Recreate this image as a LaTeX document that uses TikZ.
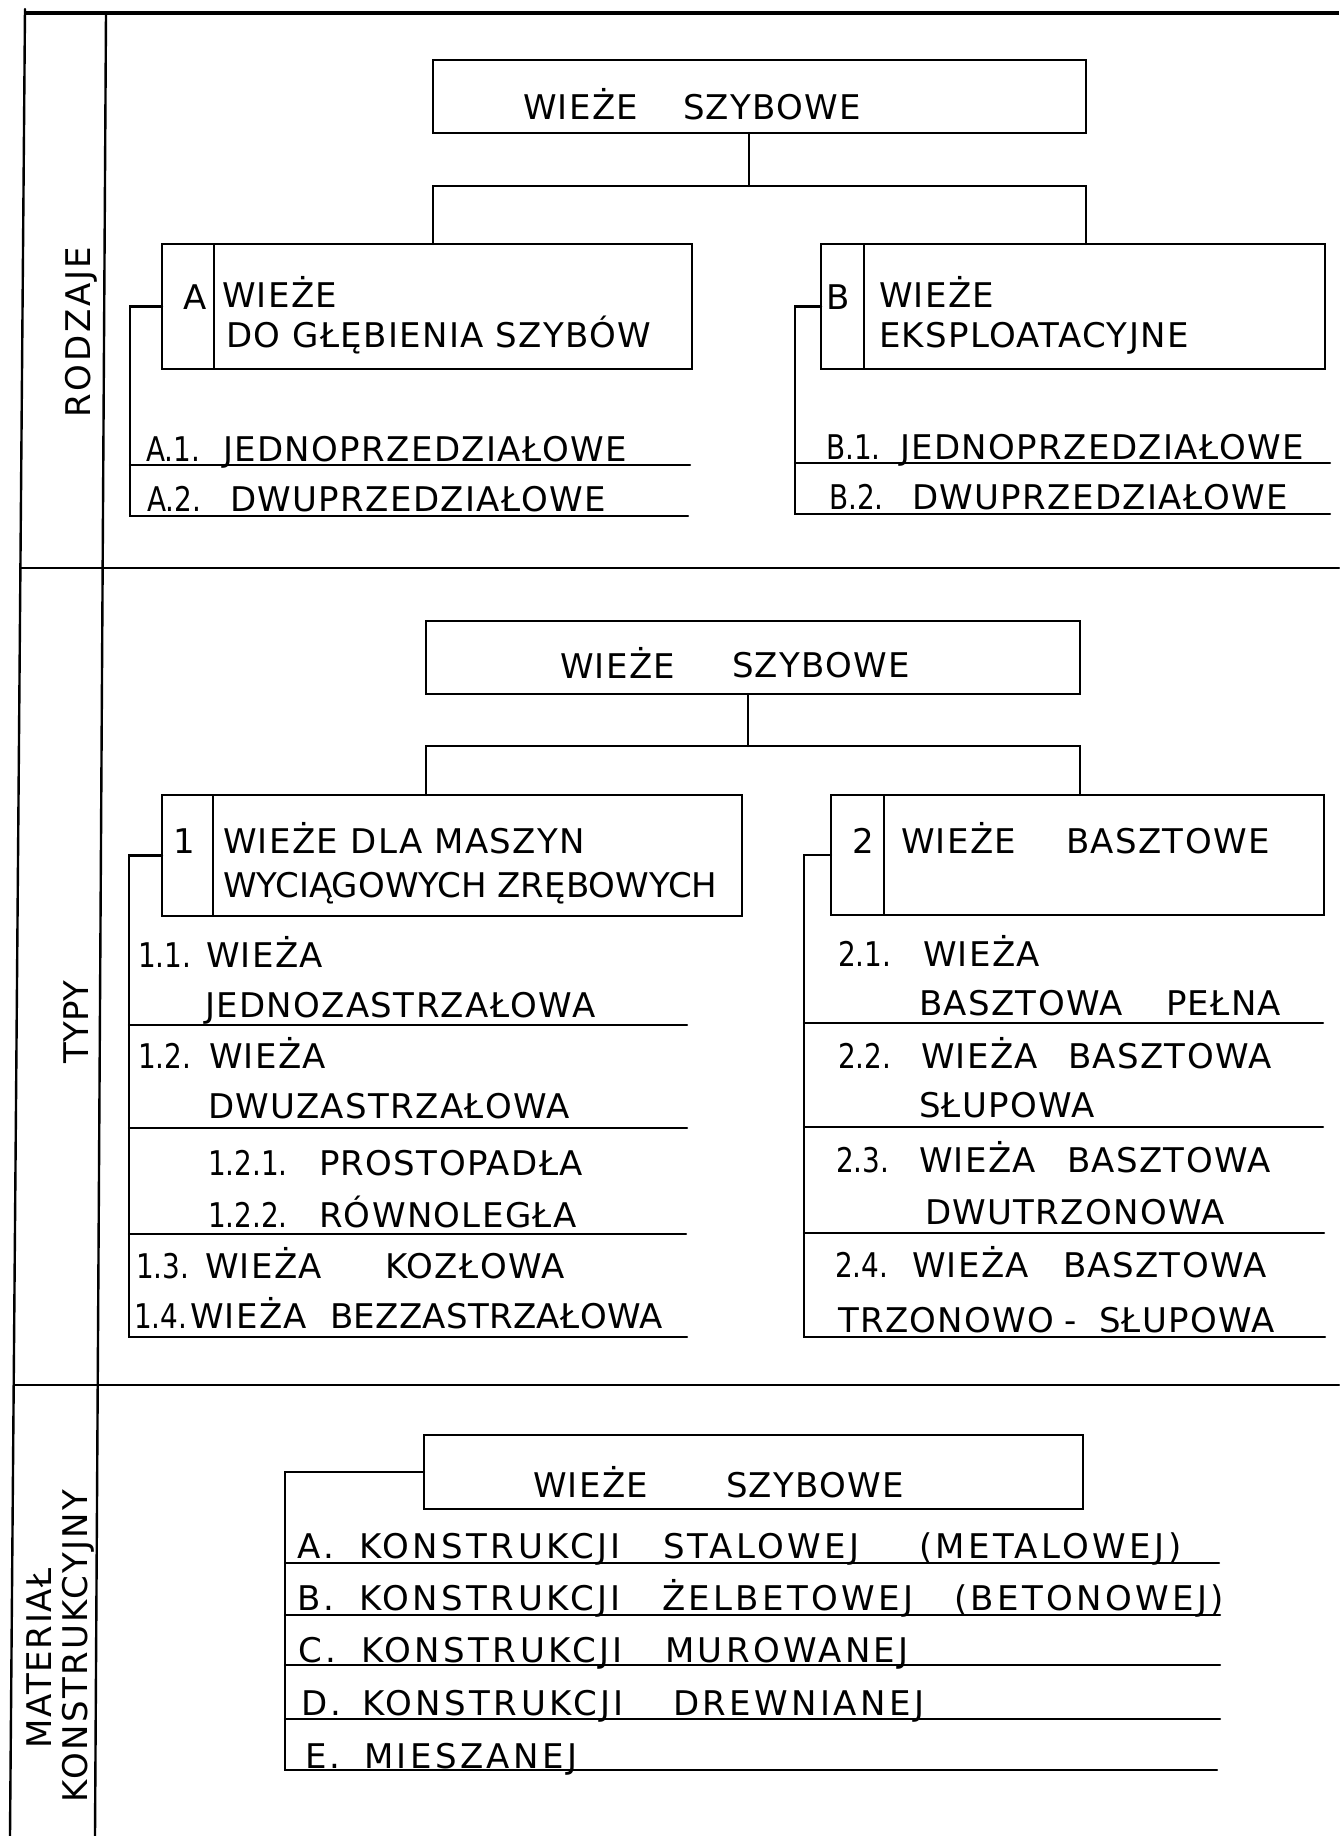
\documentclass[tikz,border=0pt]{standalone}
\usepackage{fontspec}
\usepackage{graphicx}
\setmainfont{DejaVu Sans}
\newfontfamily\fA{DejaVu Sans}[LetterSpace=4]
\newfontfamily\fB{DejaVu Sans}[LetterSpace=10]
\newfontfamily\fN{DejaVu Sans}[LetterSpace=0]
\newfontfamily\fC{DejaVu Sans}[LetterSpace=1]
\newfontfamily\fR{DejaVu Sans}[LetterSpace=8]
\newfontfamily\fM{DejaVu Sans}[LetterSpace=5]
\newfontfamily\fK{DejaVu Sans}[LetterSpace=7]
\tikzset{
  ln/.style={line width=2.4pt, line cap=round},
  box/.style={draw, line width=2.4pt, inner sep=0pt, outer sep=0pt, anchor=north west},
  txt/.style={anchor=base west, inner sep=0pt, outer sep=0pt, font=\fA\fontsize{34}{40}\selectfont},
  txtc/.style={txt, anchor=base},
  txtn/.style={txt, font=\fN\fontsize{34}{40}\selectfont},
  txtb/.style={txt, font=\fB\fontsize{34}{40}\selectfont},
  txtt/.style={txt, font=\fC\fontsize{34}{40}\selectfont},
  side/.style={txt, anchor=base, rotate=90},
}
\newcommand\T[5][]{\node[txt,#1] (#2) at (#3,#4) {#5};}
\newcommand\N[4]{\node[txtn] (#1) at (#2,#3) {\scalebox{0.82}[1]{#4}};}
\begin{document}
\begin{tikzpicture}[x=1pt,y=-1pt]
\fill[white] (0,0) rectangle (1339,1836);
\useasboundingbox (0,0) rectangle (1339,1836);

% ---------- frame ----------
\draw[line width=3.6pt] (24,13) -- (1339,13);
\draw[ln] (25,9) -- (10,1836);
\draw[ln] (106,13) -- (95,1836);
\draw[ln] (21,568) -- (1339,568);
\draw[ln] (14,1385) -- (1339,1385);

% ---------- section labels ----------
\node[side, font=\fR\fontsize{34}{40}\selectfont] (s1) at (90,332) {RODZAJE};
\node[side, font=\fN\fontsize{34}{40}\selectfont] (s2) at (88,1022) {TYPY};
\node[side, font=\fM\fontsize{34}{40}\selectfont] (s3a) at (51,1658) {MATERIAŁ};
\node[side, font=\fK\fontsize{34}{40}\selectfont] (s3b) at (87,1646) {KONSTRUKCYJNY};

% ================= RODZAJE =================
\node[box, minimum width=653pt, minimum height=73pt] (r0) at (433,60) {};
\T{t0a}{523}{119}{WIEŻE}
\T{t0b}{683}{119}{SZYBOWE}

\node[box, minimum width=52pt, minimum height=125pt] (Alab) at (162,244) {};
\node[box, minimum width=478pt, minimum height=125pt] (Atxt) at (214,244) {};
\node[box, minimum width=43pt, minimum height=125pt] (Blab) at (821,244) {};
\node[box, minimum width=461pt, minimum height=125pt] (Btxt) at (864,244) {};

\coordinate (j0) at (749,186);
\draw[ln] (j0 |- r0.south) -- (j0);
\draw[ln] (Atxt.north -| r0.west) |- (j0) -| (Btxt.north -| r0.east);

\T{tA}{183}{309}{A}
\T{tA1}{222}{307}{WIEŻE}
\T{tA2}{226}{347}{DO GŁĘBIENIA SZYBÓW}
\T{tB}{826}{309}{B}
\T{tB1}{879}{307}{WIEŻE}
\T{tB2}{879}{347}{EKSPLOATACYJNE}

\N{a1n}{146}{461}{A.1.}
\T{a1t}{223}{461}{JEDNOPRZEDZIAŁOWE}
\N{a2n}{147}{511}{A.2.}
\T{a2t}{230}{511}{DWUPRZEDZIAŁOWE}
\N{b1n}{826}{459}{B.1.}
\T{b1t}{900}{459}{JEDNOPRZEDZIAŁOWE}
\N{b2n}{829}{509}{B.2.}
\T{b2t}{912}{509}{DWUPRZEDZIAŁOWE}

\coordinate (Ac) at (130,516); \coordinate (Ae) at (688,516);
\coordinate (A1s) at (130,465); \coordinate (A1e) at (690,465);
\draw[ln] (Alab.west) -| (Ac) -- (Ae);
\draw[ln] (A1s) -- (A1e);
\coordinate (Bc) at (795,514); \coordinate (Be) at (1330,514);
\coordinate (B1s) at (795,463); \coordinate (B1e) at (1330,463);
\draw[ln] (Blab.west) -| (Bc) -- (Be);
\draw[ln] (B1s) -- (B1e);

% ================= TYPY =================
\node[box, minimum width=654pt, minimum height=73pt] (r1) at (426,621) {};
\T{t1a}{560}{678}{WIEŻE}
\T{t1b}{732}{677}{SZYBOWE}

\node[box, minimum width=51pt, minimum height=121pt] (Lab1) at (162,795) {};
\node[box, minimum width=529pt, minimum height=121pt] (Txt1) at (213,795) {};
\node[box, minimum width=53pt, minimum height=120pt] (Lab2) at (831,795) {};
\node[box, minimum width=440pt, minimum height=120pt] (Txt2) at (884,795) {};

\coordinate (j1) at (748,746);
\draw[ln] (j1 |- r1.south) -- (j1);
\draw[ln] (Txt1.north -| r1.west) |- (j1) -| (Txt2.north -| r1.east);

\T[txtc]{k1}{184}{853}{1}
\T{k1a}{223}{853}{WIEŻE DLA MASZYN}
\T[txtn]{k1b}{223}{897}{WYCIĄGOWYCH ZRĘBOWYCH}
\T[txtc]{k2}{863}{853}{2}
\T{k2a}{901}{853}{WIEŻE}
\T{k2b}{1066}{853}{BASZTOWE}

% left list
\N{n11}{138}{967}{1.1.}
\T{w11}{206}{967}{WIEŻA}
\T{w11b}{205}{1017}{JEDNOZASTRZAŁOWA}
\N{n12}{138}{1068}{1.2.}
\T{w12}{209}{1068}{WIEŻA}
\T{w12b}{208}{1118}{DWUZASTRZAŁOWA}
\N{n121}{208}{1175}{1.2.1.}
\T{w121}{319}{1175}{PROSTOPADŁA}
\N{n122}{208}{1227}{1.2.2.}
\T{w122}{319}{1227}{RÓWNOLEGŁA}
\N{n13}{136}{1278}{1.3.}
\T{w13}{205}{1278}{WIEŻA}
\T{w13b}{385}{1278}{KOZŁOWA}
\N{n14}{134}{1328}{1.4.}
\T{w14}{190}{1328}{WIEŻA}
\T[txtt]{w14b}{330}{1328}{BEZZASTRZAŁOWA}

\coordinate (c1) at (129,1337); \coordinate (e1) at (687,1337);
\draw[ln] (Lab1.west) -| (c1) -- (e1);
\coordinate (l11s) at (129,1025); \coordinate (l11e) at (687,1025);
\coordinate (l12s) at (129,1128); \coordinate (l12e) at (687,1128);
\coordinate (l13s) at (129,1234); \coordinate (l13e) at (686,1234);
\draw[ln] (l11s) -- (l11e);
\draw[ln] (l12s) -- (l12e);
\draw[ln] (l13s) -- (l13e);

% right list
\N{n21}{838}{966}{2.1.}
\T{w21}{923}{966}{WIEŻA}
\T{w21b}{919}{1015}{BASZTOWA}
\T{w21c}{1166}{1015}{PEŁNA}
\N{n22}{838}{1068}{2.2.}
\T{w22}{921}{1068}{WIEŻA}
\T{w22b}{1068}{1068}{BASZTOWA}
\T{w22c}{919}{1117}{SŁUPOWA}
\N{n23}{836}{1172}{2.3.}
\T{w23}{919}{1172}{WIEŻA}
\T{w23b}{1067}{1172}{BASZTOWA}
\T{w23c}{925}{1224}{DWUTRZONOWA}
\N{n24}{835}{1277}{2.4.}
\T{w24}{912}{1277}{WIEŻA}
\T{w24b}{1063}{1277}{BASZTOWA}
\T{w24c}{838}{1332}{TRZONOWO}
\T{w24d}{1064}{1332}{-}
\T{w24e}{1099}{1332}{SŁUPOWA}

\coordinate (c2) at (804,1337); \coordinate (e2) at (1325,1337);
\draw[ln] (Lab2.west) -| (c2) -- (e2);
\coordinate (l21s) at (804,1023); \coordinate (l21e) at (1323,1023);
\coordinate (l22s) at (804,1127); \coordinate (l22e) at (1323,1127);
\coordinate (l23s) at (804,1233); \coordinate (l23e) at (1324,1233);
\draw[ln] (l21s) -- (l21e);
\draw[ln] (l22s) -- (l22e);
\draw[ln] (l23s) -- (l23e);

% ================= MATERIAL =================
\node[box, minimum width=659pt, minimum height=74pt] (r2) at (424,1435) {};
\T{t2a}{533}{1497}{WIEŻE}
\T{t2b}{726}{1497}{SZYBOWE}

\coordinate (Mc) at (285,1770); \coordinate (Me) at (1217,1770);
\draw[ln] (r2.west) -| (Mc) -- (Me);
\coordinate (mAs) at (285,1563); \coordinate (mAe) at (1219,1563);
\coordinate (mBs) at (285,1615); \coordinate (mBe) at (1220,1615);
\coordinate (mCs) at (285,1665); \coordinate (mCe) at (1220,1665);
\coordinate (mDs) at (285,1719); \coordinate (mDe) at (1220,1719);
\draw[ln] (mAs) -- (mAe);
\draw[ln] (mBs) -- (mBe);
\draw[ln] (mCs) -- (mCe);
\draw[ln] (mDs) -- (mDe);

\T[txtb]{mA0}{297}{1558}{A.}
\T[txtb]{mA1}{359}{1558}{KONSTRUKCJI}
\T[txtb]{mA2}{663}{1558}{STALOWEJ}
\T[txtb]{mA3}{919}{1558}{(METALOWEJ)}
\T[txtb]{mB0}{297}{1610}{B.}
\T[txtb]{mB1}{359}{1610}{KONSTRUKCJI}
\T[txtb]{mB2}{662}{1610}{ŻELBETOWEJ}
\T[txtb]{mB3}{954}{1610}{(BETONOWEJ)}
\T[txtb]{mC0}{298}{1662}{C.}
\T[txtb]{mC1}{361}{1662}{KONSTRUKCJI}
\T[txtb]{mC2}{665}{1662}{MUROWANEJ}
\T[txtb]{mD0}{301}{1715}{D.}
\T[txtb]{mD1}{362}{1715}{KONSTRUKCJI}
\T[txtb]{mD2}{673}{1715}{DREWNIANEJ}
\T[txtb]{mE0}{305}{1768}{E.}
\T[txtb]{mE1}{364}{1768}{MIESZANEJ}
\end{tikzpicture}
\end{document}
